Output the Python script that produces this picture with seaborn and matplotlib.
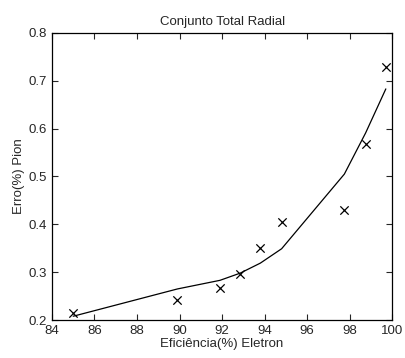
import numpy as np
import pandas as pd
import matplotlib
matplotlib.use("Agg")
import matplotlib.pyplot as plt
import seaborn as sns

# dados
eficiencia = [85.0, 89.9, 91.9, 92.85, 93.8, 94.8, 97.75, 98.75, 99.7]
erro_medido = [0.215, 0.242, 0.268, 0.297, 0.350, 0.405, 0.431, 0.567, 0.728]
erro_ajuste = [0.208, 0.265, 0.283, 0.298, 0.319, 0.349, 0.505, 0.591, 0.683]

df = pd.DataFrame({"ef": eficiencia, "med": erro_medido, "fit": erro_ajuste})

sns.set_style("ticks")
plt.rcParams['font.family'] = ['Liberation Sans', 'DejaVu Sans']
plt.rcParams['xtick.direction'] = 'in'
plt.rcParams['ytick.direction'] = 'in'

fig = plt.figure(figsize=(4.06, 3.58), dpi=100)
ax = fig.add_axes([0.128, 0.106, 0.838, 0.802])

sns.lineplot(data=df, x="ef", y="fit", color="black", linewidth=0.9, ax=ax)
sns.scatterplot(data=df, x="ef", y="med", marker="x", color="black", s=36,
                linewidth=0.9, ax=ax)

ax.set_xlim(84, 100)
ax.set_ylim(0.2, 0.8)
ax.set_xticks(np.arange(84, 101, 2))
ax.set_yticks(np.arange(0.2, 0.81, 0.1))
ax.set_yticklabels(["0.2", "0.3", "0.4", "0.5", "0.6", "0.7", "0.8"])
ax.tick_params(top=True, right=True, labelsize=9.5, length=4, width=0.8)
for s in ax.spines.values():
    s.set_color("black")
    s.set_linewidth(0.9)

ax.set_xlabel("Eficiência(%) Eletron", fontsize=9.5, labelpad=1)
ax.set_ylabel("Erro(%) Pion", fontsize=9.5, labelpad=3)
ax.set_title("Conjunto Total Radial", fontsize=9.5, pad=6)

fig.savefig("out.png", dpi=100)
